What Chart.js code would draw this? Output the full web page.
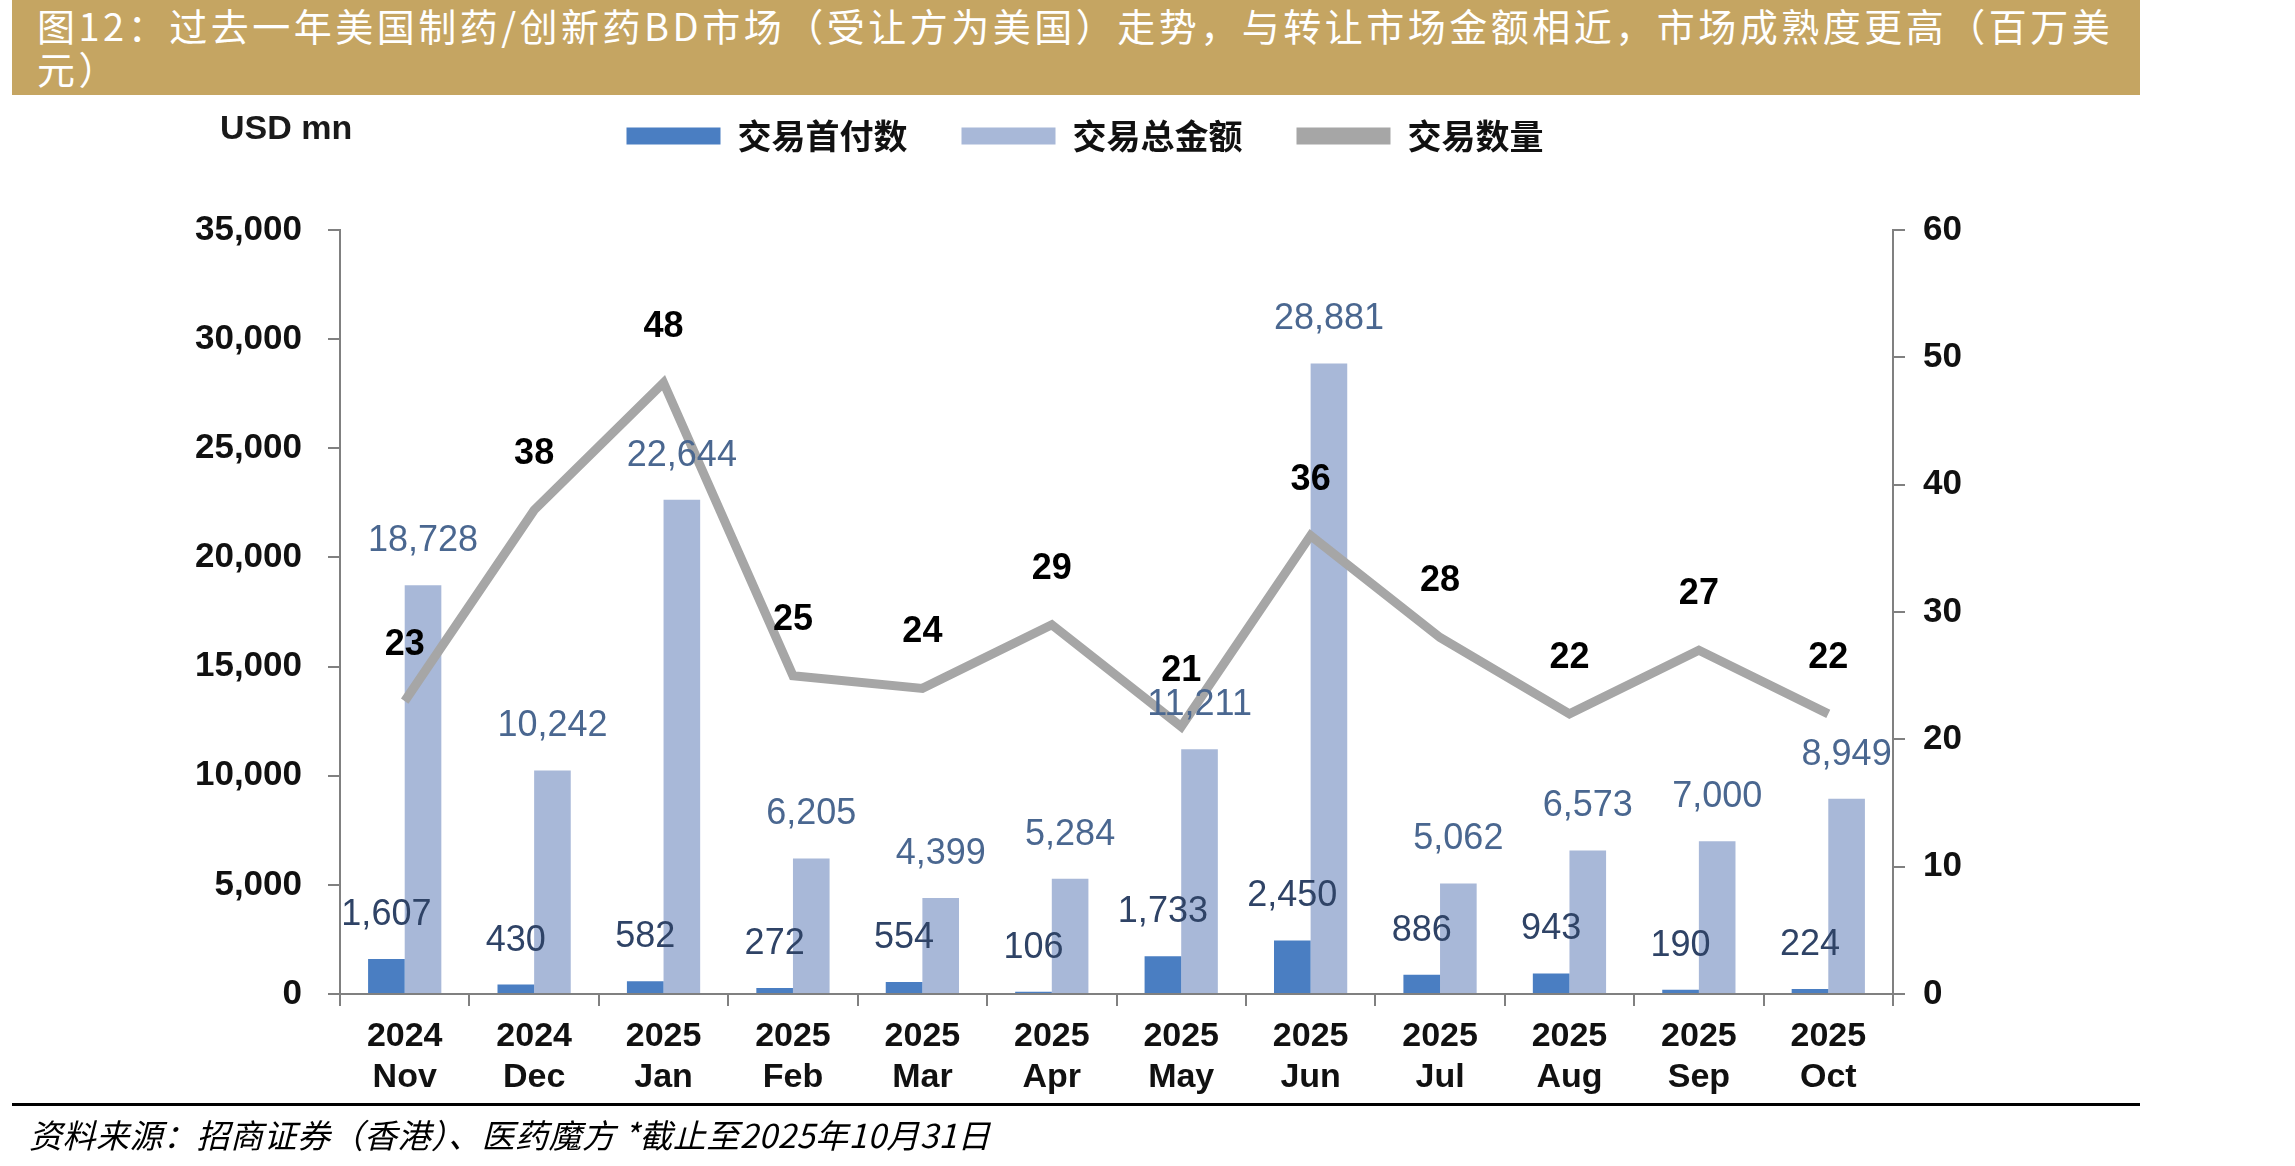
<!DOCTYPE html>
<html lang="zh-CN">
<head>
    <meta charset="UTF-8">
    <title>美国制药/创新药BD市场走势</title>
    <script src="https://cdn.jsdelivr.net/npm/chart.js"></script>
    <style>
        body { margin: 0; background: #fff; width: 2295px; height: 1166px; position: relative; overflow: hidden; }
        .title-bar {
            position: absolute; left: 12px; top: 0; width: 2128px; height: 95px;
            background: #C5A562; color: #fff;
            font-family: "Noto Sans CJK SC", sans-serif; font-size: 38px; line-height: 43px;
            letter-spacing: 3.5px; padding: 3px 0 0 25px; box-sizing: border-box;
        }
        .unit {
            position: absolute; left: 220px; top: 108px;
            font-family: "Liberation Sans", Arial, sans-serif; font-weight: bold; font-size: 34px; color: #1a1a1a;
        }
        .foot-line { position: absolute; left: 12px; top: 1103px; width: 2128px; height: 3px; background: #000; }
        .source {
            position: absolute; left: 29px; top: 1114px;
            font-family: "Noto Sans CJK SC", sans-serif; font-style: italic; font-size: 33px; line-height: 40px;
            letter-spacing: 0.5px; color: #000;
        }
        #chart { position: absolute; left: 0; top: 0; }
    </style>
</head>
<body>
    <canvas id="chart" width="2295" height="1166"></canvas>
    <div class="title-bar">图12：过去一年美国制药/创新药BD市场（受让方为美国）走势，与转让市场金额相近，市场成熟度更高（百万美<br>元）</div>
    <div class="unit">USD mn</div>
    <div class="foot-line"></div>
    <div class="source">资料来源：招商证券（香港）、医药魔方 *截止至2025年10月31日</div>

    <script>
        // Data block
        const months = [['2024', 'Nov'], ['2024', 'Dec'], ['2025', 'Jan'], ['2025', 'Feb'], ['2025', 'Mar'], ['2025', 'Apr'],
                        ['2025', 'May'], ['2025', 'Jun'], ['2025', 'Jul'], ['2025', 'Aug'], ['2025', 'Sep'], ['2025', 'Oct']];
        const upfront = [1607, 430, 582, 272, 554, 106, 1733, 2450, 886, 943, 190, 224];
        const totalValue = [18728, 10242, 22644, 6205, 4399, 5284, 11211, 28881, 5062, 6573, 7000, 8949];
        const dealCount = [23, 38, 48, 25, 24, 29, 21, 36, 28, 22, 27, 22];

        const fmt = v => v.toLocaleString('en-US');
        const sansFont = 'Liberation Sans, Arial, sans-serif';

        // value labels drawn above bars and line points
        const valueLabels = {
            id: 'valueLabels',
            afterDatasetsDraw(chart) {
                const ctx = chart.ctx;
                ctx.save();
                ctx.textAlign = 'center';
                ctx.textBaseline = 'middle';
                chart.data.datasets.forEach((ds, i) => {
                    const meta = chart.getDatasetMeta(i);
                    meta.data.forEach((el, j) => {
                        if (ds.type === 'line') {
                            ctx.font = 'bold 36px ' + sansFont;
                            ctx.fillStyle = '#000';
                            ctx.fillText(fmt(ds.data[j]), el.x, el.y - 56);
                        } else {
                            ctx.font = '36px ' + sansFont;
                            ctx.fillStyle = ds.labelColor;
                            ctx.fillText(fmt(ds.data[j]), el.x, el.y - 44);
                        }
                    });
                });
                ctx.restore();
            }
        };

        // push the plot area down below the legend
        const legendSpace = {
            id: 'legendSpace',
            beforeInit(chart) {
                const origFit = chart.legend.fit;
                chart.legend.fit = function () {
                    origFit.bind(chart.legend)();
                    this.height = 165;
                };
            }
        };

        const data = {
            labels: months,
            datasets: [
                {
                    type: 'bar', label: '交易首付数', data: upfront, yAxisID: 'y',
                    backgroundColor: '#4A7EC2', labelColor: '#2F4366',
                    barPercentage: 1, categoryPercentage: 0.566
                },
                {
                    type: 'bar', label: '交易总金额', data: totalValue, yAxisID: 'y',
                    backgroundColor: '#A8B8D8', labelColor: '#4A6790',
                    barPercentage: 1, categoryPercentage: 0.566
                },
                {
                    type: 'line', label: '交易数量', data: dealCount, yAxisID: 'y1',
                    borderColor: '#A6A6A6', backgroundColor: '#A6A6A6', borderWidth: 9,
                    pointRadius: 0, tension: 0, order: -1
                }
            ]
        };

        const axisGray = '#808080';

        const config = {
            data,
            options: {
                responsive: false,
                devicePixelRatio: 1,
                animation: false,
                layout: { padding: { top: 65, left: 0, right: 125, bottom: 0 } },
                plugins: {
                    tooltip: { enabled: false },
                    legend: {
                        position: 'top',
                        labels: {
                            boxWidth: 94, boxHeight: 17, padding: 54, color: '#111',
                            font: { family: 'Noto Sans CJK SC', size: 34, weight: 'bold' },
                            sort: (a, b) => a.datasetIndex - b.datasetIndex,
                            generateLabels(chart) {
                                const items = Chart.defaults.plugins.legend.labels.generateLabels(chart);
                                items.forEach(it => { it.lineWidth = 0; });
                                return items;
                            }
                        }
                    }
                },
                scales: {
                    x: {
                        afterFit(scale) { scale.height = 172; },
                        grid: { offset: true, drawOnChartArea: false, drawTicks: true, tickLength: 12, color: axisGray, lineWidth: 2 },
                        border: { display: true, color: axisGray, width: 2 },
                        ticks: {
                            color: '#111', padding: 10, maxRotation: 0, autoSkip: false,
                            font: { family: sansFont, size: 34, weight: 'bold', lineHeight: 1.2 }
                        }
                    },
                    y: {
                        position: 'left', min: 0, max: 35000,
                        afterFit(scale) { scale.width = 340; },
                        grid: { drawOnChartArea: false, drawTicks: true, tickLength: 12, color: axisGray, lineWidth: 2 },
                        border: { display: true, color: axisGray, width: 2 },
                        ticks: {
                            stepSize: 5000, color: '#111', padding: 26,
                            font: { family: sansFont, size: 35, weight: 'bold' },
                            callback: v => fmt(v)
                        }
                    },
                    y1: {
                        position: 'right', min: 0, max: 60,
                        afterFit(scale) { scale.width = 277; },
                        grid: { drawOnChartArea: false, drawTicks: true, tickLength: 12, color: axisGray, lineWidth: 2 },
                        border: { display: true, color: axisGray, width: 2 },
                        ticks: {
                            stepSize: 10, color: '#111', padding: 18,
                            font: { family: sansFont, size: 35, weight: 'bold' }
                        }
                    }
                }
            },
            plugins: [valueLabels, legendSpace]
        };

        const myChart = new Chart(document.getElementById('chart'), config);
    </script>
</body>
</html>
